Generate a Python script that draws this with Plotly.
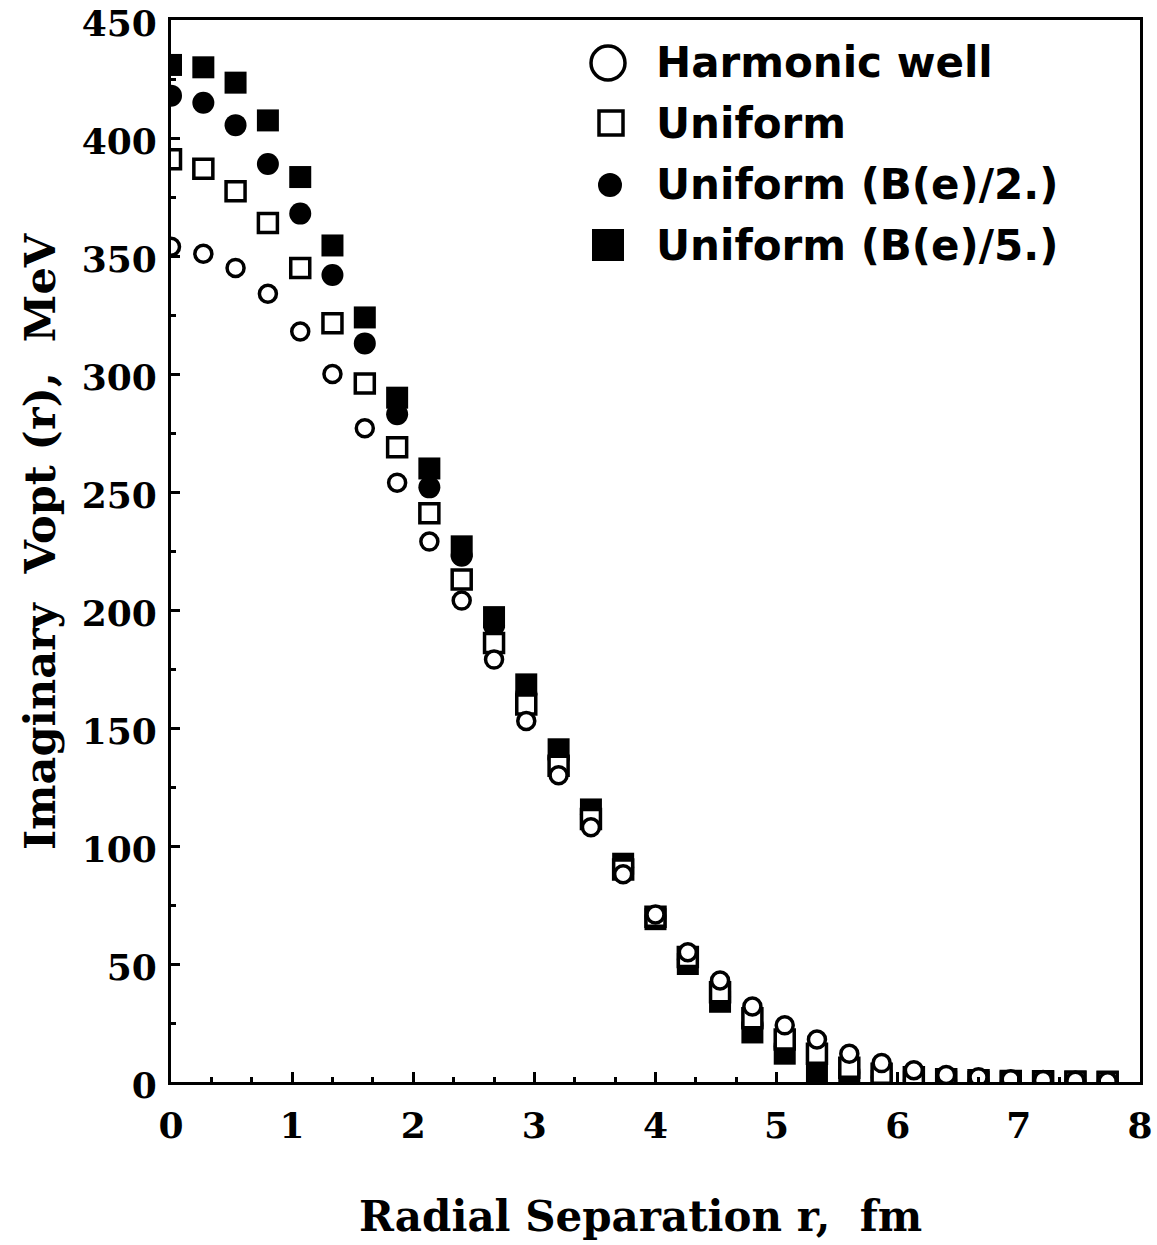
import plotly.graph_objects as go

# ---------------- data ----------------
r_fm = [0.0, 0.267, 0.533, 0.8, 1.067, 1.333, 1.6, 1.867, 2.133, 2.4,
        2.667, 2.933, 3.2, 3.467, 3.733, 4.0, 4.267, 4.533, 4.8, 5.067,
        5.333, 5.6, 5.867, 6.133, 6.4, 6.667, 6.933, 7.2, 7.467, 7.733]

harmonic_well = [354, 351, 345, 334, 318, 300, 277, 254, 229, 204,
                 179, 153, 130, 108, 88, 71, 55, 43, 32, 24,
                 18, 12, 8, 5, 3, 2, 1.2, 0.8, 0.5, 0.3]

uniform = [391, 387, 377.5, 364, 345, 321.5, 296, 269, 241, 213,
           186, 160, 134, 111.5, 90, 70, 53, 38, 27, 18,
           12, 6, 3.5, 2, 1.2, 0.7, 0.4, 0.3, 0.2, 0.1]

uniform_b2 = [418, 415, 405.5, 389, 368, 342, 313, 283, 252, 223,
              193.5, 164.5, 137, 113.5, 91, 70, 52, 36, 24, 15,
              9, 4, 2, 1, 0.5, 0.3, 0.2, 0.1, 0.1, 0.0]

uniform_b5 = [431, 430, 423.5, 407.5, 383.5, 354.5, 324, 290, 260, 227,
              197, 168.5, 141, 115.5, 92.5, 69, 50, 34, 21, 12,
              4, 1, 0.5, 0.2, 0.1, 0.0, 0.0, 0.0, 0.0, 0.0]

legend_labels = ["Harmonic well", "Uniform", "Uniform (B(e)/2.)", "Uniform (B(e)/5.)"]
x_title = "Radial Separation r,\u00a0\u00a0fm"
y_title = "Imaginary\u00a0\u00a0Vopt (r),\u00a0\u00a0MeV"
x_ticks = [0, 1, 2, 3, 4, 5, 6, 7, 8]
y_ticks = [0, 50, 100, 150, 200, 250, 300, 350, 400, 450]

# ---------------- layout constants (screen pixels; body margin removed) ----------------
W, H = 1157, 1245
L, R, T, B = 171, 1140, 20, 1082
PW, PH = R - L, B - T

def px2paper_x(px):
    return (px - L) / PW

def px2paper_y(py):
    return (B - py) / PH

SERIF = "DejaVu Serif"
SANS = "DejaVu Sans"

fig = go.Figure()

# bottom-most: filled squares, then filled circles, then open squares, then open circles
fig.add_trace(go.Scatter(x=r_fm, y=uniform_b5, mode="markers", name=legend_labels[3],
                         showlegend=False,
                         marker=dict(symbol="square", size=22, color="black",
                                     line=dict(width=0))))
fig.add_trace(go.Scatter(x=r_fm, y=uniform_b2, mode="markers", name=legend_labels[2],
                         showlegend=False,
                         marker=dict(symbol="circle", size=22, color="black",
                                     line=dict(width=0))))
fig.add_trace(go.Scatter(x=r_fm, y=uniform, mode="markers", name=legend_labels[1],
                         showlegend=False,
                         marker=dict(symbol="square", size=19, color="white",
                                     line=dict(width=3.5, color="black"))))
fig.add_trace(go.Scatter(x=r_fm, y=harmonic_well, mode="markers", name=legend_labels[0],
                         showlegend=False,
                         marker=dict(symbol="circle", size=17, color="white",
                                     line=dict(width=3.5, color="black"))))

# ---------------- custom legend (overlay axes in [0,1]) ----------------
leg_sym_px = [608, 611, 610, 608]
leg_row_py = [63, 123, 185, 245]
leg_text_px = 654
leg_styles = [
    dict(symbol="circle", size=34, color="white", line=dict(width=3.5, color="black")),
    dict(symbol="square", size=24, color="white", line=dict(width=3.5, color="black")),
    dict(symbol="circle", size=24, color="black", line=dict(width=0)),
    dict(symbol="square", size=32, color="black", line=dict(width=0)),
]
for i, lab in enumerate(legend_labels):
    fig.add_trace(go.Scatter(x=[px2paper_x(leg_sym_px[i])], y=[px2paper_y(leg_row_py[i])],
                             mode="markers", xaxis="x2", yaxis="y2", showlegend=False,
                             cliponaxis=False, hoverinfo="skip",
                             marker=leg_styles[i]))
    fig.add_annotation(x=px2paper_x(leg_text_px), y=px2paper_y(leg_row_py[i]),
                       xref="paper", yref="paper", xanchor="left", yanchor="middle",
                       text=lab, showarrow=False,
                       font=dict(family=SANS, size=42, color="black", weight=900))

# axis titles as annotations (fixed pixel placement)
fig.add_annotation(x=px2paper_x(640), y=px2paper_y(1216), xref="paper", yref="paper",
                   xanchor="center", yanchor="middle", text=x_title, showarrow=False,
                   font=dict(family=SERIF, size=42, color="black", weight="bold"))
fig.add_annotation(x=px2paper_x(40), y=px2paper_y(542), xref="paper", yref="paper",
                   xanchor="center", yanchor="middle", text=y_title, showarrow=False,
                   textangle=-90,
                   font=dict(family=SERIF, size=43, color="black", weight="bold"))

axis_common = dict(
    showline=True, linewidth=3, linecolor="black", mirror=True,
    showgrid=False, zeroline=False, automargin=False,
    ticks="inside", tickcolor="black", tickwidth=3,
    ticklabeloverflow="allow",
    tickfont=dict(family=SERIF, size=36, color="black", weight="bold"),
)

fig.update_layout(
    width=W, height=H,
    margin=dict(l=L, r=W - R, t=T, b=H - B, autoexpand=False),
    paper_bgcolor="white", plot_bgcolor="white",
    showlegend=False,
    xaxis=dict(range=[0, 8.0001], tickvals=x_ticks, ticklen=10,
               minor=dict(dtick=1/3, tick0=0, ticks="inside", ticklen=5,
                          tickwidth=3, tickcolor="black"),
               ticklabelstandoff=10,
               **axis_common),
    yaxis=dict(range=[0, 450.05], tickvals=y_ticks, ticklen=9,
               minor=dict(dtick=25, tick0=0, ticks="inside", ticklen=5,
                          tickwidth=3, tickcolor="black"),
               ticklabelstandoff=4, ticklabelshift=3,
               **axis_common),
    xaxis2=dict(overlaying="x", range=[0, 1], visible=False),
    yaxis2=dict(overlaying="y", range=[0, 1], visible=False),
)

fig.write_html(
    "out.html",
    config={"displayModeBar": False},
    post_script="document.body.style.margin='0';document.body.style.padding='0';"
                "document.documentElement.style.overflow='hidden';",
)
